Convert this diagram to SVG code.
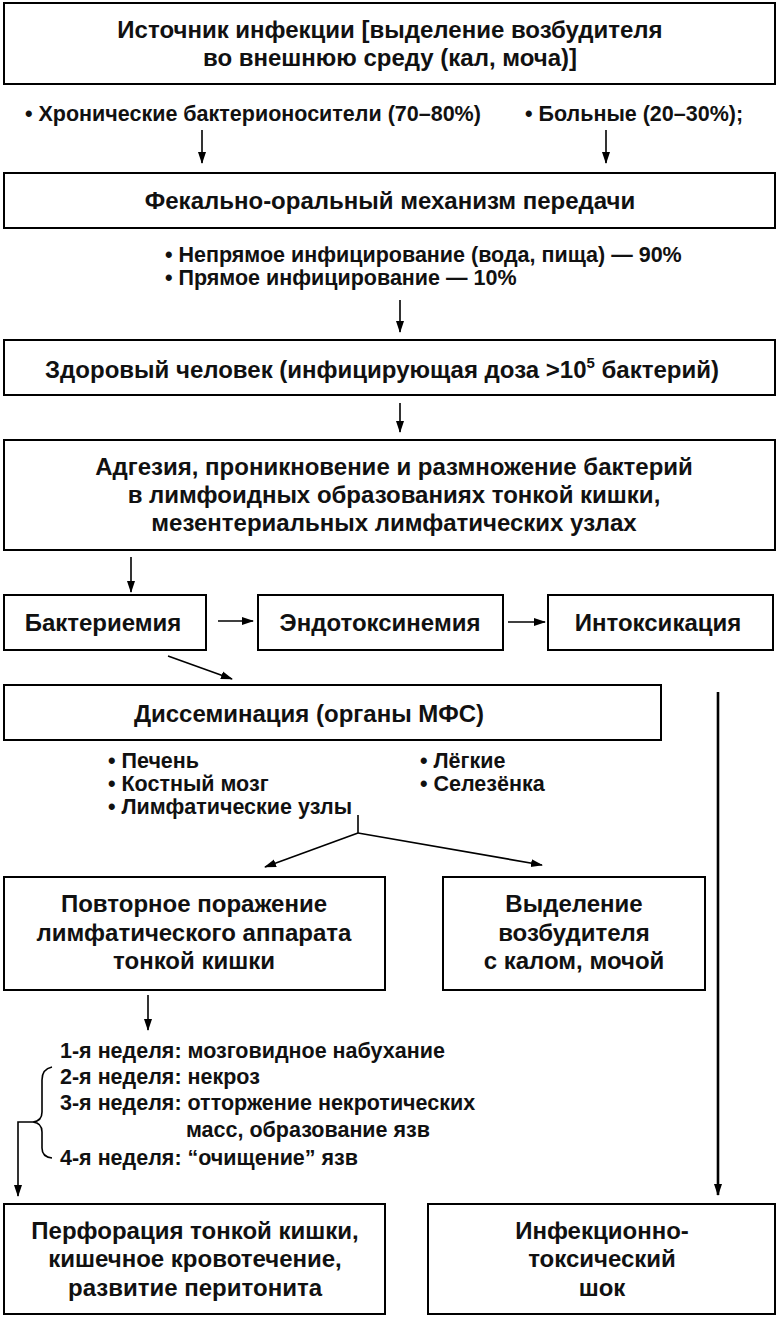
<svg xmlns="http://www.w3.org/2000/svg" width="778" height="1319" viewBox="0 0 778 1319">
<style>
.box{fill:#fff;stroke:#000;stroke-width:2}
.t{font-family:"Liberation Sans",Arial,sans-serif;font-weight:bold;font-size:24px;fill:#111;text-anchor:middle}
.s{font-family:"Liberation Sans",Arial,sans-serif;font-weight:bold;font-size:21.5px;fill:#111}
.c{stroke:#000;stroke-width:1.6;fill:none}
</style>
<defs>
<marker id="ah" markerWidth="12" markerHeight="10" refX="11" refY="5" orient="auto" markerUnits="userSpaceOnUse">
<path d="M0,1 L12,5 L0,9 Z" fill="#000"/>
</marker>
</defs>
<rect width="778" height="1319" fill="#fff"/>

<g id="n1"><rect class="box" x="4" y="3" width="771" height="81"/>
<text class="t" x="390" y="38">Источник инфекции [выделение возбудителя</text>
<text class="t" x="390" y="66">во внешнюю среду (кал, моча)]</text></g>

<g id="src-list">
<text class="s" x="25" y="121">• Хронические бактерионосители (70–80%)</text>
<text class="s" x="525" y="121">• Больные (20–30%);</text></g>

<g id="n2"><rect class="box" x="4" y="173" width="771" height="55"/>
<text class="t" x="390" y="209">Фекально-оральный механизм передачи</text></g>

<g id="route-list">
<text class="s" x="165" y="262">• Непрямое инфицирование (вода, пища) — 90%</text>
<text class="s" x="165" y="285">• Прямое инфицирование — 10%</text></g>

<g id="n3"><rect class="box" x="4" y="340" width="771" height="55"/>
<text class="t" x="382" y="378">Здоровый человек (инфицирующая доза &gt;10<tspan font-size="15" dy="-10">5</tspan><tspan dy="10"> бактерий)</tspan></text></g>

<g id="n4"><rect class="box" x="4" y="440" width="771" height="110"/>
<text class="t" x="394" y="475">Адгезия, проникновение и размножение бактерий</text>
<text class="t" x="394" y="503">в лимфоидных образованиях тонкой кишки,</text>
<text class="t" x="394" y="531">мезентериальных лимфатических узлах</text></g>

<g id="n5"><rect class="box" x="4" y="595" width="202" height="55"/>
<text class="t" x="103" y="631">Бактериемия</text></g>
<g id="n6"><rect class="box" x="258" y="595" width="245" height="55"/>
<text class="t" x="380" y="631">Эндотоксинемия</text></g>
<g id="n7"><rect class="box" x="548" y="595" width="225" height="55"/>
<text class="t" x="658" y="631">Интоксикация</text></g>

<g id="n8"><rect class="box" x="4" y="685" width="657" height="55"/>
<text class="t" x="309" y="722">Диссеминация (органы МФС)</text></g>

<g id="organs">
<text class="s" x="108" y="768">• Печень</text>
<text class="s" x="108" y="791">• Костный мозг</text>
<text class="s" x="108" y="814">• Лимфатические узлы</text>
<text class="s" x="420" y="768">• Лёгкие</text>
<text class="s" x="420" y="791">• Селезёнка</text></g>

<g id="n9"><rect class="box" x="4" y="877" width="381" height="113"/>
<text class="t" x="194" y="912">Повторное поражение</text>
<text class="t" x="194" y="941">лимфатического аппарата</text>
<text class="t" x="194" y="969">тонкой кишки</text></g>

<g id="n10"><rect class="box" x="443" y="877" width="262" height="113"/>
<text class="t" x="574" y="912">Выделение</text>
<text class="t" x="574" y="941">возбудителя</text>
<text class="t" x="574" y="969">с калом, мочой</text></g>

<g id="weeks">
<text class="s" x="60" y="1058">1-я неделя: мозговидное набухание</text>
<text class="s" x="60" y="1084">2-я неделя: некроз</text>
<text class="s" x="60" y="1110">3-я неделя: отторжение некротических</text>
<text class="s" x="186" y="1137">масс, образование язв</text>
<text class="s" x="60" y="1165">4-я неделя: “очищение” язв</text>
<path class="c" d="M52,1067 Q42,1069 42,1080 L42,1112 Q42,1121 33,1122 Q42,1123 42,1132 L42,1148 Q42,1157 52,1158"/></g>

<g id="n11"><rect class="box" x="4" y="1204" width="381" height="110"/>
<text class="t" x="195" y="1239">Перфорация тонкой кишки,</text>
<text class="t" x="195" y="1267">кишечное кровотечение,</text>
<text class="t" x="195" y="1296">развитие перитонита</text></g>

<g id="n12"><rect class="box" x="428" y="1204" width="347" height="110"/>
<text class="t" x="602" y="1239">Инфекционно-</text>
<text class="t" x="602" y="1267">токсический</text>
<text class="t" x="602" y="1296">шок</text></g>

<g id="connectors">
<line class="c" x1="202" y1="130" x2="202" y2="163" marker-end="url(#ah)"/>
<line class="c" x1="606" y1="130" x2="606" y2="163" marker-end="url(#ah)"/>
<line class="c" x1="400" y1="300" x2="400" y2="332" marker-end="url(#ah)"/>
<line class="c" x1="400" y1="403" x2="400" y2="432" marker-end="url(#ah)"/>
<line class="c" x1="131" y1="557" x2="131" y2="592" marker-end="url(#ah)"/>
<line class="c" x1="218" y1="621" x2="253" y2="621" marker-end="url(#ah)"/>
<line class="c" x1="508" y1="622" x2="545" y2="622" marker-end="url(#ah)"/>
<line class="c" x1="168" y1="656" x2="232" y2="679" marker-end="url(#ah)"/>
<line x1="718" y1="692" x2="718" y2="1195" stroke="#000" stroke-width="2.6" marker-end="url(#ah)"/>
<line class="c" x1="358" y1="815" x2="358" y2="833"/>
<line class="c" x1="358" y1="833" x2="265" y2="867" marker-end="url(#ah)"/>
<line class="c" x1="358" y1="833" x2="542" y2="865" marker-end="url(#ah)"/>
<line class="c" x1="148" y1="995" x2="148" y2="1030" marker-end="url(#ah)"/>
<polyline class="c" points="33,1122 18,1122 18,1196" marker-end="url(#ah)"/>
</g>
</svg>
